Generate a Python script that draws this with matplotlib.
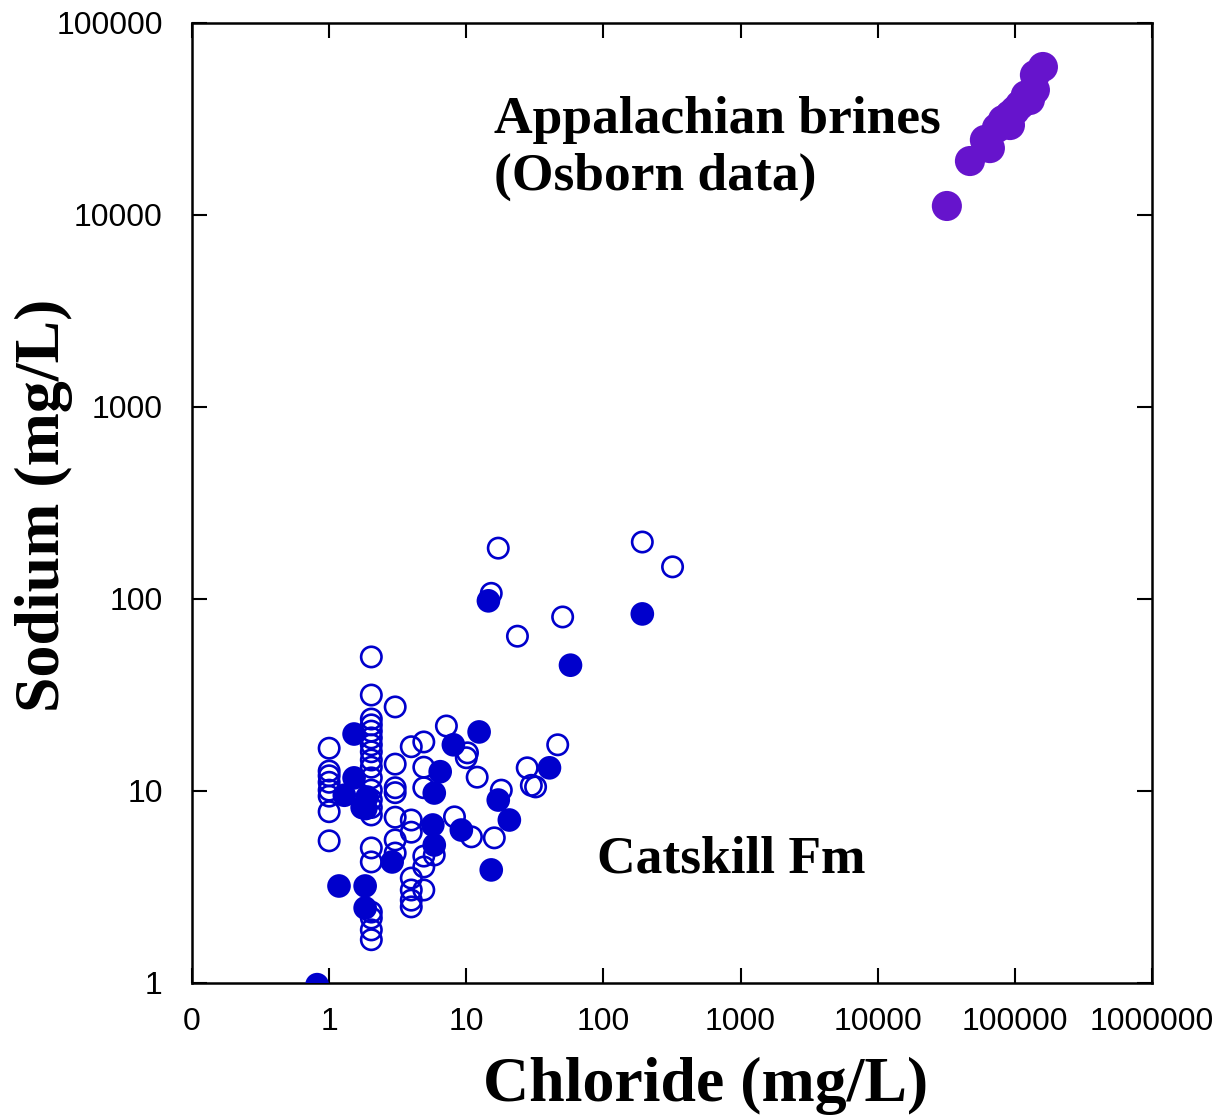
import numpy as np
import matplotlib.pyplot as plt

# Catskill Fm - open circles (chloride, sodium in mg/L)
open_cl = [1.0] * 8 + [2.03] * 21 + [3.03] * 7 + [3.97] * 7 + [4.9] * 6 + [
    7.16, 10.2, 10.0, 12.0, 18.0, 27.8, 29.8, 32.0, 46.4, 8.2, 10.9, 16.0,
    5.84, 17.1, 15.2, 23.6, 50.4, 192, 319]
open_na = [16.7, 12.7, 12.0, 11.1, 10.1, 9.4, 7.8, 5.5,
           49.9, 31.6, 23.7, 22.1, 20.5, 18.9, 17.4, 16.0, 14.5, 13.3, 11.7,
           10.1, 9.0, 8.2, 7.5, 5.05, 4.27, 2.34, 2.18, 1.89, 1.68,
           27.4, 13.8, 10.4, 9.8, 7.3, 5.56, 4.75,
           17.0, 7.06, 6.1, 3.52, 3.05, 2.7, 2.49,
           18.0, 13.3, 10.4, 4.58, 4.02, 3.05,
           21.8, 15.8, 14.9, 11.8, 10.1, 13.2, 10.7, 10.5, 17.4, 7.33, 5.77,
           5.7, 4.64, 184, 107, 64, 80.6, 198, 147]

# Catskill Fm - filled circles
fill_cl = [0.817, 1.18, 1.83, 1.83, 1.52, 1.52, 1.29, 1.74, 1.89, 1.85, 2.88,
           5.84, 5.7, 5.84, 6.45, 8.05, 9.2, 12.4, 17.1, 20.6, 15.2, 40.4,
           57.5, 14.5, 192]
fill_na = [0.98, 3.2, 3.2, 2.46, 19.8, 11.7, 9.5, 8.2, 9.3, 8.1, 4.27,
           5.23, 6.65, 9.76, 12.6, 17.4, 6.26, 20.3, 8.97, 7.06, 3.88, 13.2,
           45.2, 97.8, 83.6]

# Appalachian brines (Osborn data)
brine_cl = [31900, 47000, 60400, 65700, 73900, 81700, 85000, 92000, 92000,
            100000, 108700, 120000, 128500, 128500, 139900, 139900, 160000]
brine_na = [11140, 19100, 24600, 22300, 28400, 31200, 30000, 33200, 29400,
            35000, 37400, 42000, 40700, 39700, 44800, 53600, 59000]

x_ticks = [0.1, 1, 10, 100, 1000, 10000, 100000, 1000000]
x_labels = ['0', '1', '10', '100', '1000', '10000', '100000', '1000000']
y_ticks = [1, 10, 100, 1000, 10000, 100000]
y_labels = ['1', '10', '100', '1000', '10000', '100000']

blue = '#0000cc'
purple = '#6614cc'

fig = plt.figure(figsize=(12.26, 11.16), dpi=100)
ax = fig.add_axes([0.1566, 0.1192, 0.7831, 0.8602])

ax.scatter(open_cl, open_na, s=215, facecolors='none', edgecolors=blue,
           linewidths=1.9, zorder=3)
ax.scatter(fill_cl, fill_na, s=290, color=blue, edgecolors='none', zorder=4)
ax.scatter(brine_cl, brine_na, s=470, color=purple, edgecolors='none',
           zorder=5)

ax.set_xscale('log')
ax.set_yscale('log')
ax.set_xlim(0.1, 1000000)
ax.set_ylim(1, 100000)
ax.set_xticks(x_ticks)
ax.set_xticklabels(x_labels)
ax.set_yticks(y_ticks)
ax.set_yticklabels(y_labels)
ax.minorticks_off()
ax.tick_params(direction='in', length=11, width=1.5, top=True, right=True,
               labelsize=23)
ax.tick_params(axis='x', pad=17)
ax.tick_params(axis='y', pad=21)
for lab in ax.get_xticklabels() + ax.get_yticklabels():
    lab.set_family('Liberation Sans')
for sp in ax.spines.values():
    sp.set_linewidth(1.8)

# axis titles placed by hand (the original is not centred on the axes)
fig.text(0.5759, 0.0135, 'Chloride (mg/L)', family='Liberation Serif',
         weight='bold', fontsize=46, ha='center', va='baseline')
fig.text(0.0359, 0.5475, 'Sodium (mg/L)', family='Liberation Serif',
         weight='bold', fontsize=46, rotation=90, ha='center', va='center')

ax.text(0.3146, 0.885, 'Appalachian brines', transform=ax.transAxes,
        family='Liberation Serif', weight='bold', fontsize=38.5, va='baseline')
ax.text(0.3146, 0.826, '(Osborn data)', transform=ax.transAxes,
        family='Liberation Serif', weight='bold', fontsize=38.5, va='baseline')
ax.text(0.4219, 0.1146, 'Catskill Fm', transform=ax.transAxes,
        family='Liberation Serif', weight='bold', fontsize=38.5, va='baseline')

fig.savefig('out.png', dpi=100)
